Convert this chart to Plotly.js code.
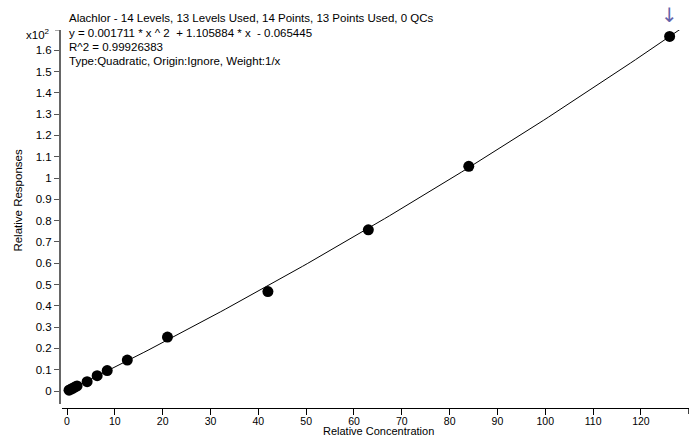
<!DOCTYPE html>
<html>
<head>
<meta charset="utf-8">
<script src="https://cdn.plot.ly/plotly-3.0.1.min.js"></script>
<style>html,body{margin:0;padding:0;background:#fff;}#chart{width:691px;height:436px;}</style>
</head>
<body>
<div id="chart"></div>
<script>
// Calibration levels (relative concentration) and measured relative responses (x10^2)
const concentration = [0.42, 0.84, 1.26, 1.68, 2.1, 4.2, 6.3, 8.4, 12.6, 21, 42, 63, 84, 126];
const response      = [0.004, 0.009, 0.013, 0.019, 0.024, 0.044, 0.072, 0.096, 0.145, 0.253, 0.467, 0.757, 1.055, 1.665];

// Fit coefficients shown on the chart: y = a*x^2 + b*x + c (raw units), plotted in x10^2
const fitCoef = [0.001711, 1.105884, -0.065445];
const fitScale = 100;
const fitRange = [0, 128.5];

const xTickVals = [0, 10, 20, 30, 40, 50, 60, 70, 80, 90, 100, 110, 120];
const xTickText = ['0','10','20','30','40','50','60','70','80','90','100','110','120'];
const yTickVals = [0, 0.1, 0.2, 0.3, 0.4, 0.5, 0.6, 0.7, 0.8, 0.9, 1, 1.1, 1.2, 1.3, 1.4, 1.5, 1.6];
const yTickText = ['0','0.1','0.2','0.3','0.4','0.5','0.6','0.7','0.8','0.9','1','1.1','1.2','1.3','1.4','1.5','1.6'];
const xEnd = 130, yEnd = 1.695;

const headerLines = [
  'Alachlor - 14 Levels, 13 Levels Used, 14 Points, 13 Points Used, 0 QCs',
  'y = 0.001711 * x ^ 2  + 1.105884 * x  - 0.065445',
  'R^2 = 0.99926383',
  'Type:Quadratic, Origin:Ignore, Weight:1/x'
];

const fitX = [], fitY = [];
const nSteps = 120;
for (let i = 0; i <= nSteps; i++) {
  const x = fitRange[0] + (fitRange[1] - fitRange[0]) * i / nSteps;
  fitX.push(x);
  fitY.push((fitCoef[0] * x * x + fitCoef[1] * x + fitCoef[2]) / fitScale);
}

const FONT = 'Liberation Sans, Arial, sans-serif';

const traces = [
  {x: fitX, y: fitY, mode: 'lines', line: {color: '#000', width: 1}, hoverinfo: 'skip'},
  {x: concentration, y: response, mode: 'markers', marker: {color: '#000', size: 11}}
];

const headerY = [1.0317, 0.9921, 0.955, 0.918];
const annotations = headerLines.map((t, i) => ({
  text: t, xref: 'paper', yref: 'paper', x: 0.0111, y: headerY[i],
  xanchor: 'left', yanchor: 'middle', showarrow: false,
  font: {family: FONT, size: 11.5, color: '#000'}
}));
annotations.push({
  text: 'x10<sup>2</sup>', xref: 'paper', yref: 'paper', x: -0.012, y: 0.99,
  xanchor: 'right', yanchor: 'middle', showarrow: false,
  font: {family: FONT, size: 11.5, color: '#000'}
});
annotations.push({
  text: 'Relative Responses', xref: 'paper', yref: 'paper', x: -0.066, y: 0.55,
  textangle: -90, xanchor: 'center', yanchor: 'middle', showarrow: false,
  font: {family: FONT, size: 11.5, color: '#000'}
});
annotations.push({
  text: 'Relative Concentration', xref: 'paper', yref: 'paper', x: 0.506, y: -0.0605,
  xanchor: 'center', yanchor: 'middle', showarrow: false,
  font: {family: FONT, size: 11, color: '#000'}
});
annotations.push({
  text: '↓', xref: 'x', yref: 'paper', x: concentration[concentration.length - 1], y: 1.04,
  xanchor: 'center', yanchor: 'middle', showarrow: false,
  font: {family: 'DejaVu Sans', size: 20, color: '#6464aa'}
});

const shapes = [
  {type: 'line', xref: 'x', yref: 'paper', x0: xEnd, x1: xEnd, y0: 0, y1: -0.0159,
   line: {color: '#000', width: 1}},
  {type: 'line', xref: 'paper', yref: 'y', x0: 0, x1: -0.0079, y0: yEnd, y1: yEnd,
   line: {color: '#555', width: 1}}
];

const layout = {
  width: 691, height: 436,
  margin: {l: 60, r: 2, t: 30, b: 28, pad: 0},
  paper_bgcolor: '#fff', plot_bgcolor: '#fff',
  showlegend: false,
  font: {family: FONT, size: 11.5, color: '#000'},
  xaxis: {
    domain: [0.0032, 1], range: [-1.05, 130.05],
    anchor: 'free', position: 0,
    tickmode: 'array', tickvals: xTickVals, ticktext: xTickText,
    ticks: 'outside', ticklen: 6, tickcolor: '#000', tickwidth: 1,
    ticklabelstandoff: -3,
    showline: true, linecolor: '#000', linewidth: 1,
    showgrid: false, zeroline: false,
    tickfont: {family: FONT, size: 10.5, color: '#000'}
  },
  yaxis: {
    domain: [0.0106, 1], range: [-0.061, 1.695],
    anchor: 'free', position: 0,
    tickmode: 'array', tickvals: yTickVals, ticktext: yTickText,
    ticks: 'outside', ticklen: 5, tickcolor: '#555', tickwidth: 1,
    showline: true, linecolor: '#666', linewidth: 2,
    showgrid: false, zeroline: false,
    tickfont: {family: FONT, size: 11.5, color: '#000'}
  },
  shapes: shapes,
  annotations: annotations
};

Plotly.newPlot('chart', traces, layout, {displayModeBar: false, staticPlot: true});
</script>
</body>
</html>
